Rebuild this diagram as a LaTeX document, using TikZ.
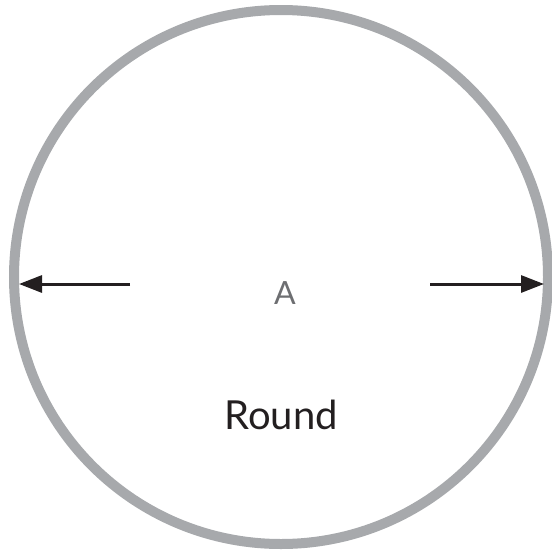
\documentclass[tikz,border=0pt]{standalone}
\usepackage{fontspec}
\setmainfont{Lato}
\usepackage{tikz}
\usetikzlibrary{arrows.meta, positioning, calc}
\definecolor{rimgray}{HTML}{A7A9AC}
\definecolor{labelgray}{HTML}{6D6E71}
\definecolor{inkblack}{HTML}{231F20}

\begin{document}
\begin{tikzpicture}[
	x=0.5pt, y=-0.5pt,
	rim/.style={draw=rimgray, line width=5pt, circle, minimum size=267pt, inner sep=0pt, outer sep=0pt},
	pointer/.style={-{Triangle[length=11.5pt, width=8.5pt]}, draw=inkblack, line width=1.5pt},
	dimlabel/.style={text=labelgray, font=\fontsize{16}{18}\selectfont},
	namelabel/.style={text=inkblack, font=\fontsize{20}{22}\selectfont}
]
\useasboundingbox (0,0) rectangle (552,552);

\node[rim] (disc) at (281,277) {};
\coordinate (startL) at (130,284);
\coordinate (startR) at (430,284);
\coordinate (tipL) at (19,284);
\coordinate (tipR) at (544,284);

\node[dimlabel] (dim) at (285,293) {A};
\node[namelabel] (name) at (281,415) {Round};

\draw[pointer] (startL) -- (tipL);
\draw[pointer] (startR) -- (tipR);

\end{tikzpicture}
\end{document}
